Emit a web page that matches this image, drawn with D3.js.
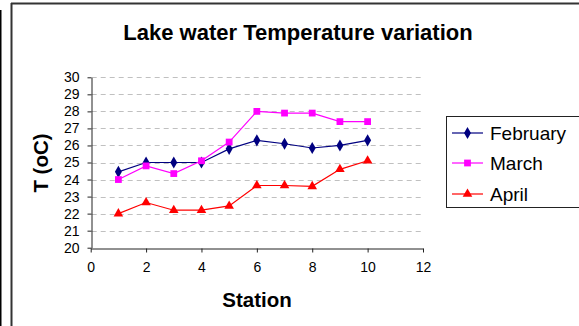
<!DOCTYPE html>
<html>
<head>
<meta charset="utf-8">
<script src="https://cdn.jsdelivr.net/npm/d3@7"></script>
<style>
  body { margin: 0; background: #fff; }
  svg { display: block; font-family: "Liberation Sans", Arial, sans-serif; }
</style>
</head>
<body>
<svg id="chart" width="579" height="326"></svg>
<script>
// データ
var stations = [1, 2, 3, 4, 5, 6, 7, 8, 9, 10];
var february = [24.45, 25.0, 25.0, 25.0, 25.8, 26.3, 26.1, 25.85, 26.0, 26.3];
var march    = [24.0, 24.8, 24.35, 25.1, 26.2, 28.0, 27.9, 27.9, 27.4, 27.4];
var april    = [22.0, 22.65, 22.2, 22.2, 22.45, 23.65, 23.65, 23.6, 24.6, 25.1];
var seriesNames = ["February", "March", "April"];
var xTicks = [0, 2, 4, 6, 8, 10, 12];
var yTicks = [20, 21, 22, 23, 24, 25, 26, 27, 28, 29, 30];

var series = [
  { name: seriesNames[0], values: february, color: "#000080", symbol: d3.symbolDiamond, size: 42 },
  { name: seriesNames[1], values: march, color: "#ff00ff", symbol: d3.symbolSquare, size: 46 },
  { name: seriesNames[2], values: april, color: "#ff0000", symbol: d3.symbolTriangle, size: 40 }
];

var svg = d3.select("#chart");

// 外枠
svg.append("line").attr("x1", 11.5).attr("y1", 3).attr("x2", 11.5).attr("y2", 326)
  .attr("stroke", "#333").attr("stroke-width", 2);
svg.append("line").attr("x1", 11).attr("y1", 3.5).attr("x2", 579).attr("y2", 3.5)
  .attr("stroke", "#333").attr("stroke-width", 2);
svg.append("line").attr("x1", 0.5).attr("y1", 10).attr("x2", 0.5).attr("y2", 326)
  .attr("stroke", "#000").attr("stroke-width", 2);

var x = d3.scaleLinear().domain([0, 12]).range([90.7, 423]);
var y = d3.scaleLinear().domain([20, 30]).range([247.7, 77.3]);

// グリッド線
svg.append("g").selectAll("line")
  .data(yTicks.slice(1))
  .enter().append("line")
  .attr("x1", x(0) + 1).attr("x2", x(12))
  .attr("y1", function(d){ return Math.round(y(d)) + 0.5; })
  .attr("y2", function(d){ return Math.round(y(d)) + 0.5; })
  .attr("stroke", "#c0c0c0").attr("stroke-dasharray", "5,4");

// 軸
var xAxis = svg.append("g")
  .attr("transform", "translate(0," + (Math.round(y(20)) + 0.5) + ")")
  .call(d3.axisBottom(x).tickValues(xTicks).tickSize(4).tickSizeOuter(0).tickPadding(10));
var yAxis = svg.append("g")
  .attr("transform", "translate(" + (Math.round(x(0)) + 0.5) + ",0)")
  .call(d3.axisLeft(y).tickValues(yTicks).tickSize(4).tickSizeOuter(0).tickPadding(8));
[xAxis, yAxis].forEach(function(a){
  a.select(".domain").attr("stroke", "#222");
  a.selectAll(".tick line").attr("stroke", "#222");
  a.selectAll("text").attr("font-size", 14).attr("fill", "#000")
    .attr("font-family", "'Liberation Sans', Arial, sans-serif");
});

// 系列
var line = d3.line()
  .x(function(d, i){ return x(stations[i]); })
  .y(function(d){ return y(d); });

series.forEach(function(s){
  svg.append("path").datum(s.values)
    .attr("d", line).attr("fill", "none")
    .attr("stroke", s.color).attr("stroke-width", 1.2);
  svg.append("g").selectAll("path")
    .data(s.values).enter().append("path")
    .attr("transform", function(d, i){ return "translate(" + x(stations[i]) + "," + y(d) + ")"; })
    .attr("d", d3.symbol().type(s.symbol).size(s.size))
    .attr("fill", s.color);
});

// タイトル
svg.append("text").attr("x", 298).attr("y", 40).attr("text-anchor", "middle")
  .attr("font-size", 22).attr("font-weight", "bold").text("Lake water Temperature variation");
svg.append("text").attr("x", 257).attr("y", 307).attr("text-anchor", "middle")
  .attr("font-size", 20.5).attr("font-weight", "bold").text("Station");
svg.append("text").attr("transform", "translate(48,163) rotate(-90)").attr("text-anchor", "middle")
  .attr("font-size", 20.5).attr("font-weight", "bold").text("T (oC)");

// 凡例
var legend = svg.append("g");
legend.append("rect").attr("x", 446.5).attr("y", 116.5).attr("width", 140).attr("height", 91)
  .attr("fill", "#fff").attr("stroke", "#222");
var rowY = [133, 163, 194];
series.forEach(function(s, i){
  var g = legend.append("g").attr("transform", "translate(0," + rowY[i] + ")");
  g.append("line").attr("x1", 452).attr("x2", 483).attr("y1", 0).attr("y2", 0)
    .attr("stroke", s.color).attr("stroke-width", 1.2);
  g.append("path").attr("transform", "translate(467.5,0)")
    .attr("d", d3.symbol().type(s.symbol).size(s.size)).attr("fill", s.color);
  g.append("text").attr("x", 490).attr("y", 7).attr("font-size", 19).text(s.name);
});
</script>
</body>
</html>
